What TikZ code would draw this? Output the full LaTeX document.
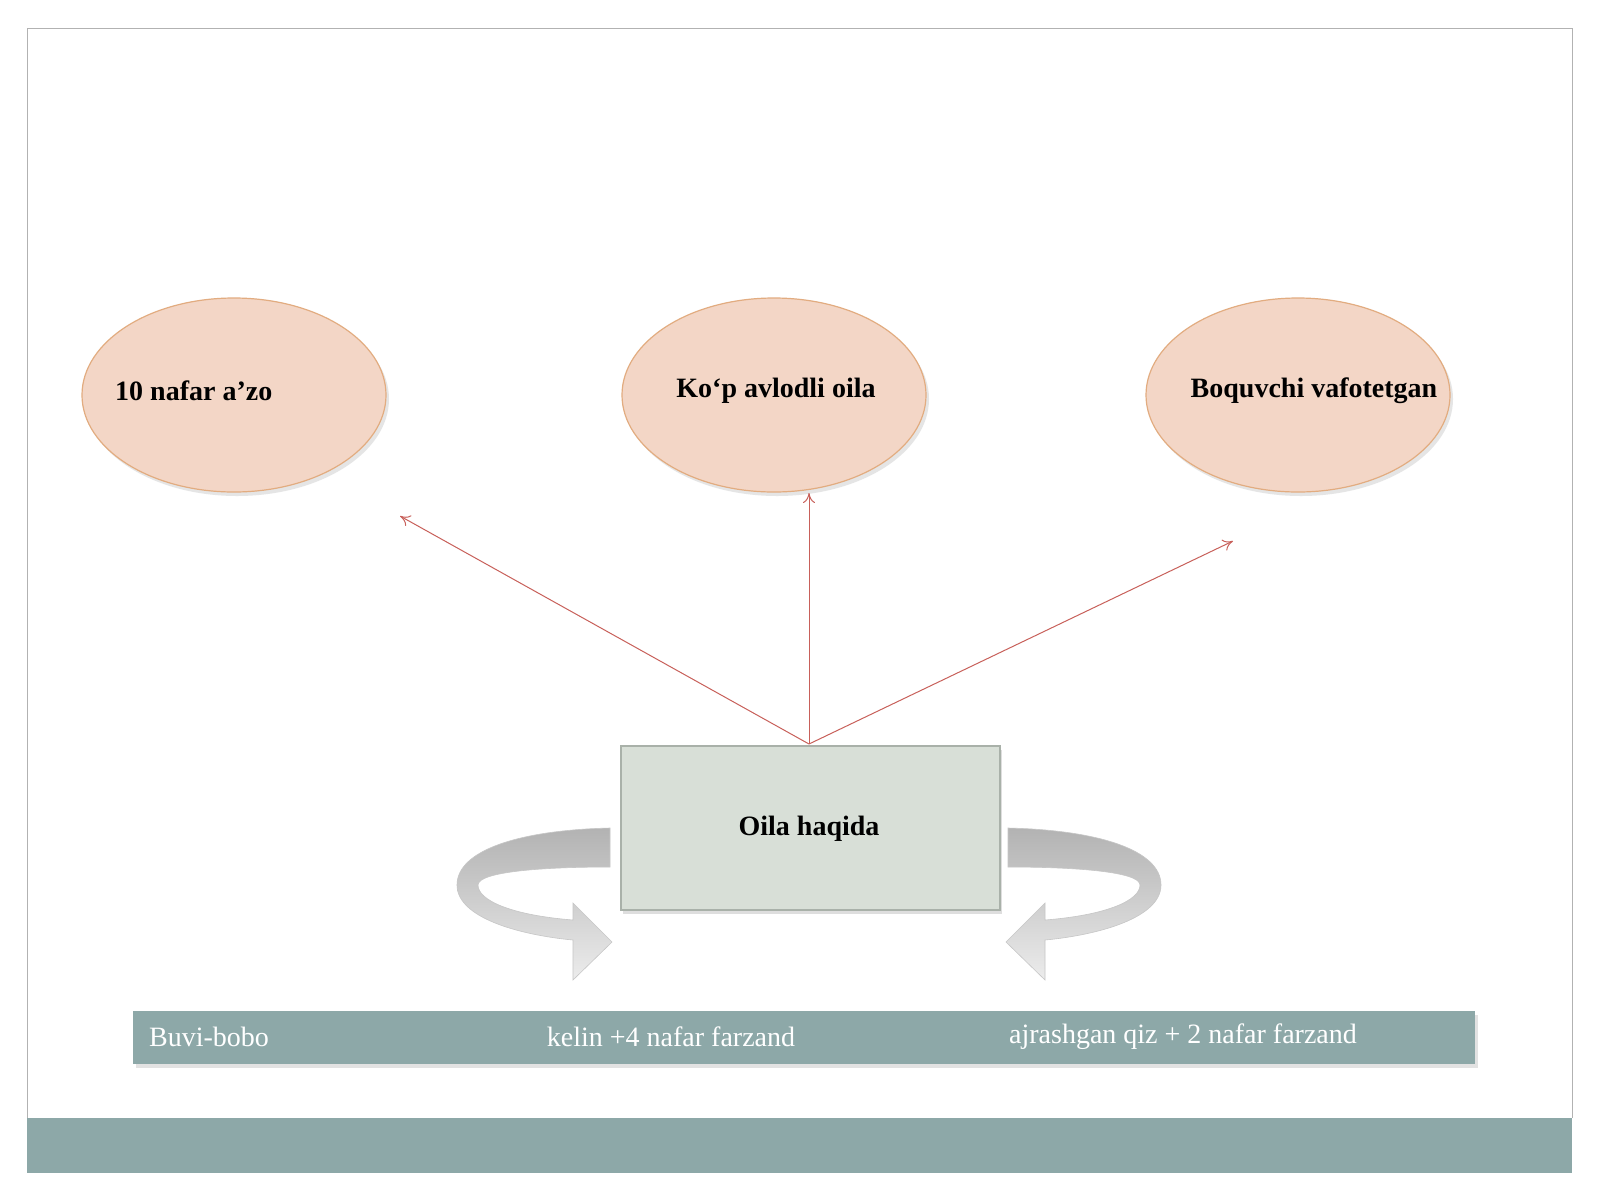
\documentclass[tikz,border=0pt]{standalone}
\usepackage{fontspec}
\setmainfont{Liberation Serif}
\usetikzlibrary{shapes.geometric,shadows,arrows.meta}
\definecolor{peach}{HTML}{F3D6C6}
\definecolor{peachline}{HTML}{E2AC80}
\definecolor{boxfill}{HTML}{D8DFD7}
\definecolor{boxline}{HTML}{A9B1A9}
\definecolor{teal}{HTML}{8DA8A8}
\definecolor{redline}{HTML}{C8605A}
\begin{document}
\begin{tikzpicture}[x=1pt,y=-1pt,
  ell/.style={ellipse,draw=peachline,line width=1.2pt,fill=peach,minimum width=304pt,minimum height=194pt,
     drop shadow={shadow xshift=3pt,shadow yshift=-4pt,fill=gray!40}},
  lbl/.style={font=\bfseries\fontsize{28}{30}\selectfont,inner sep=0pt},
  bartxt/.style={font=\fontsize{28}{30}\selectfont,text=white,inner sep=0pt},
  ray/.style={draw=redline,line width=1pt,-{To[length=10pt,width=12pt]}},
  curv/.style={top color=gray!60,bottom color=gray!15,draw=gray!45,line width=0.6pt}]
\useasboundingbox (0,0) rectangle (1600,1200);
\fill[white] (0,0) rectangle (1600,1200);
\draw[gray!60,line width=1pt] (27,1118) -- (27,28) -- (1572,28) -- (1572,1118);
\fill[teal] (27,1118) rectangle (1572,1173);
\node[ell] (e1) at (234,395) {};
\node[ell] (e2) at (774,395) {};
\node[ell] (e3) at (1298,395) {};
\node[lbl,anchor=west] (t1) at (115,391) {10 nafar a’zo};
\node[lbl] (t2) at (776,391) {Ko‘p avlodli oila};
\node[lbl] (t3) at (1314,391) {Boquvchi vafotetgan};
\node[draw=boxline,line width=1.2pt,fill=boxfill,minimum width=379pt,minimum height=164pt,
  drop shadow={shadow xshift=2pt,shadow yshift=-4pt,fill=gray!50}] (box) at (810.5,828) {};
\node[lbl] (bt) at (809,829) {Oila haqida};
\coordinate (src) at (809,744);
\coordinate (a1) at (400,516);
\coordinate (a2) at (809,493);
\coordinate (a3) at (1233,541);
\draw[ray] (src) -- (a1);
\draw[ray] (src) -- (a2);
\draw[ray] (src) -- (a3);
\node[fill=teal,minimum width=1342pt,minimum height=53pt,inner sep=0pt,
  drop shadow={shadow xshift=3pt,shadow yshift=-4pt,fill=gray!45}] (bar) at (804,1037.5) {};
\node[bartxt,anchor=west] (b1) at (149,1037) {Buvi-bobo};
\node[bartxt] (b2) at (671,1037) {kelin +4 nafar farzand};
\node[bartxt] (b3) at (1183,1037) {ajrashgan qiz + 2 nafar farzand};
\foreach \s in {1,-1}{
\begin{scope}[shift={(809,0)},xscale=\s,shift={(-809,0)}]
\path[curv] (610,828) .. controls (520,830) and (457,850) .. (457,885)
  .. controls (457,918) and (520,935) .. (573,940)
  -- (573,980) -- (612,942) -- (573,903) -- (573,920)
  .. controls (510,915) and (478,900) .. (478,885)
  .. controls (478,872) and (540,867) .. (610,867) -- cycle;
\end{scope}}
\end{tikzpicture}
\end{document}
